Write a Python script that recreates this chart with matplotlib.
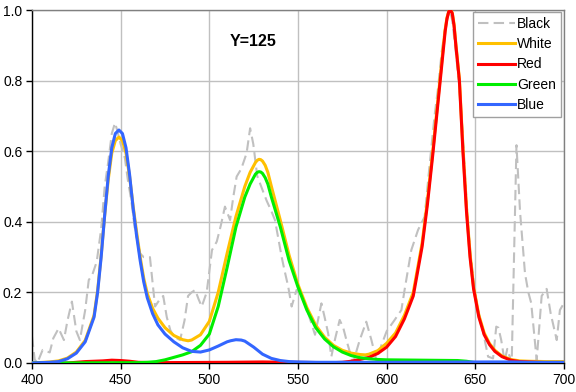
import matplotlib
matplotlib.use("Agg")
import matplotlib.pyplot as plt

plt.rcParams['font.family'] = ['Liberation Sans', 'DejaVu Sans']

# ---- data ----
black_wl = [400, 401.5, 403, 406, 410, 412, 415, 418, 420, 422.5, 425, 427, 430, 432, 434, 436.5,
            439, 441, 443, 445, 446.8, 448, 450, 452.4, 454, 456, 458, 461, 463, 466.5, 469.4,
            472, 474, 476, 478, 480, 483.5, 486, 488, 490, 492, 494, 495.7, 498.5, 500, 501.5,
            504.2, 506.5, 508.8, 511.7, 513.5, 515.4, 518, 521, 523, 524.8, 527, 530, 532.3, 535,
            537, 539, 540.8, 542.5, 544.5, 546.4, 549.2, 552, 555.8, 559.6, 563.2, 565, 567, 568.8,
            571, 573.5, 575.5, 577.3, 581, 584.8, 588.5, 591.4, 594.2, 597, 600, 604.5, 608.3,
            610.1, 613.9, 617.7, 621.4, 624, 627, 629, 631, 633, 635.5, 637, 639, 641, 643, 645.9,
            647.5, 649.6, 651.5, 653.4, 655.5, 657.2, 660, 661.8, 663, 664.6, 666.5, 668, 670.5,
            673.2, 675.2, 678, 679.9, 681.5, 684.6, 687.4, 690.2, 692.5, 695.9, 697.7, 700]
black_val = [0.075, 0.01, 0.0, 0.037, 0.03, 0.07, 0.098, 0.065, 0.12, 0.174, 0.09, 0.065, 0.15,
             0.235, 0.25, 0.287, 0.38, 0.5, 0.57, 0.65, 0.68, 0.66, 0.62, 0.58, 0.52, 0.46, 0.38,
             0.31, 0.30, 0.30, 0.16, 0.18, 0.19, 0.13, 0.093, 0.075, 0.065, 0.12, 0.19, 0.2,
             0.207, 0.18, 0.16, 0.2, 0.26, 0.32, 0.344, 0.39, 0.443, 0.405, 0.47, 0.528, 0.55,
             0.594, 0.665, 0.62, 0.53, 0.49, 0.46, 0.43, 0.405, 0.35, 0.3, 0.26, 0.216, 0.16,
             0.207, 0.19, 0.14, 0.08, 0.169, 0.13, 0.084, 0.018, 0.07, 0.122, 0.1, 0.065, 0.0,
             0.065, 0.117, 0.065, 0.008, 0.05, 0.09, 0.122, 0.15, 0.207, 0.32, 0.377, 0.414,
             0.55, 0.7, 0.78, 0.88, 0.95, 1.0, 0.97, 0.88, 0.78, 0.64, 0.386, 0.3, 0.207, 0.15,
             0.112, 0.06, 0.018, 0.013, 0.103, 0.1, 0.065, 0.005, 0.04, 0.0, 0.617, 0.43, 0.254,
             0.2, 0.17, 0.008, 0.19, 0.21, 0.14, 0.065, 0.15, 0.17]

white_wl = [400, 410, 415, 420, 425, 430, 435, 437, 439, 441, 443, 445, 447, 449, 451, 453, 455,
            457, 459, 461, 463, 465, 468, 471, 475, 480, 485, 488, 490, 495, 500, 505, 510, 515,
            520, 523, 526, 527, 528, 529, 530, 531.5, 533, 535, 540, 545, 550, 555, 560, 565,
            570, 575, 580, 585, 588, 590, 595, 600, 605, 610, 615, 620, 623, 626, 628, 630, 632,
            633, 634, 635, 636, 637, 638, 639, 641, 643, 645, 647, 649, 652, 655, 658, 661, 665,
            670, 675, 680, 690, 700]
white_val = [0.0, 0.003, 0.006, 0.014, 0.031, 0.064, 0.135, 0.205, 0.305, 0.42, 0.52, 0.595,
             0.63, 0.64, 0.63, 0.595, 0.53, 0.445, 0.37, 0.30, 0.24, 0.197, 0.155, 0.127, 0.1,
             0.078, 0.066, 0.063, 0.065, 0.08, 0.118, 0.2, 0.31, 0.415, 0.5, 0.54, 0.568, 0.574,
             0.577, 0.576, 0.572, 0.56, 0.54, 0.5, 0.405, 0.305, 0.222, 0.157, 0.107, 0.073,
             0.05, 0.036, 0.028, 0.024, 0.023, 0.025, 0.035, 0.056, 0.085, 0.135, 0.2, 0.34,
             0.46, 0.6, 0.7, 0.8, 0.9, 0.945, 0.978, 0.996, 1.0, 0.992, 0.96, 0.905, 0.805,
             0.61, 0.44, 0.31, 0.215, 0.135, 0.085, 0.055, 0.036, 0.02, 0.01, 0.006, 0.005,
             0.004, 0.004]

red_wl = [400, 420, 425, 430, 440, 445, 450, 455, 460, 470, 510, 530, 545, 570, 575, 580, 585,
          590, 595, 600, 605, 610, 615, 620, 623, 626, 628, 630, 632, 633, 634, 635, 636, 637,
          638, 639, 641, 643, 645, 647, 649, 652, 655, 658, 661, 665, 670, 675, 680, 685, 690,
          700]
red_val = [0.0, 0.0, 0.002, 0.004, 0.006, 0.008, 0.007, 0.005, 0.002, 0.001, 0.002, 0.003,
           0.002, 0.001, 0.002, 0.005, 0.01, 0.016, 0.027, 0.045, 0.075, 0.125, 0.19, 0.33,
           0.45, 0.59, 0.69, 0.79, 0.89, 0.94, 0.975, 0.995, 1.0, 0.99, 0.955, 0.9, 0.8, 0.6,
           0.43, 0.3, 0.21, 0.13, 0.08, 0.052, 0.033, 0.018, 0.008, 0.004, 0.003, 0.002, 0.001,
           0.0]

green_wl = [400, 460, 465, 470, 475, 480, 485, 490, 495, 500, 505, 510, 515, 520, 523, 526, 527,
            528, 529, 530, 531.5, 533, 535, 540, 545, 550, 555, 560, 565, 570, 575, 580, 585,
            590, 595, 600, 620, 640, 645, 650, 660, 700]
green_val = [0.0, 0.001, 0.002, 0.004, 0.009, 0.016, 0.023, 0.032, 0.05, 0.082, 0.16, 0.27,
             0.385, 0.47, 0.507, 0.535, 0.54, 0.542, 0.541, 0.537, 0.525, 0.507, 0.47, 0.386,
             0.29, 0.215, 0.15, 0.1, 0.068, 0.046, 0.031, 0.021, 0.015, 0.012, 0.01, 0.009,
             0.008, 0.007, 0.005, 0.001, 0.0, 0.0]

blue_wl = [400, 405, 410, 415, 420, 425, 430, 435, 437, 439, 441, 443, 445, 447, 449, 451, 453,
           455, 457, 459, 461, 463, 465, 468, 471, 475, 480, 485, 490, 495, 500, 505, 510, 512,
           515, 518, 520, 525, 530, 535, 540, 545, 550, 560, 600, 660, 670, 680, 700]
blue_val = [0.0, 0.001, 0.002, 0.004, 0.012, 0.028, 0.06, 0.13, 0.2, 0.3, 0.42, 0.53, 0.61,
            0.65, 0.66, 0.65, 0.61, 0.535, 0.44, 0.36, 0.29, 0.23, 0.185, 0.14, 0.108, 0.082,
            0.06, 0.043, 0.033, 0.031, 0.037, 0.048, 0.06, 0.063, 0.066, 0.065, 0.062, 0.045,
            0.025, 0.013, 0.007, 0.004, 0.003, 0.002, 0.002, 0.003, 0.003, 0.002, 0.002]

x_ticks = [400, 450, 500, 550, 600, 650, 700]
y_ticks = [0.0, 0.2, 0.4, 0.6, 0.8, 1.0]
annotation = "Y=125"

# ---- figure ----
fig = plt.figure(figsize=(5.76, 3.92), dpi=100)
ax = fig.add_axes([32 / 576, 1 - 363 / 392, 532 / 576, 353 / 392])

ax.plot(black_wl, black_val, color='#C0C0C0', lw=1.5, dashes=(5, 2.5), label='Black', zorder=2)
ax.plot(white_wl, white_val, color='#FFC000', lw=2.2, label='White', zorder=3)
ax.plot(red_wl, red_val, color='#FF0000', lw=2.2, label='Red', zorder=4)
ax.plot(green_wl, green_val, color='#00EE00', lw=2.2, label='Green', zorder=5)
ax.plot(blue_wl, blue_val, color='#3366FF', lw=2.2, label='Blue', zorder=6)

ax.set_xlim(400, 700)
ax.set_ylim(0, 1.0)
ax.set_xticks(x_ticks)
ax.set_yticks(y_ticks)
ax.set_yticklabels([f"{v:.1f}" for v in y_ticks])
ax.grid(True, color='#C0C0C0', lw=1.0)
ax.set_axisbelow(True)

for s in ('top', 'right'):
    ax.spines[s].set_color('#808080')
    ax.spines[s].set_linewidth(1.0)
for s in ('left', 'bottom'):
    ax.spines[s].set_color('black')
    ax.spines[s].set_linewidth(1.0)
ax.tick_params(axis='both', direction='out', length=4, width=1, color='black',
               labelsize=10, pad=3)
ax.tick_params(top=False, right=False)

ax.text(0.415, 0.91, annotation, transform=ax.transAxes, ha='center', va='center',
        fontsize=11.5, fontweight='bold')

leg = ax.legend(loc='upper right', bbox_to_anchor=(0.9944, 0.9943), borderaxespad=0,
                fontsize=10, handlelength=2.7, handletextpad=0.15, labelspacing=0.45,
                borderpad=0.35, fancybox=False, framealpha=1, edgecolor='#A0A0A0')
leg.get_frame().set_linewidth(1.0)

fig.savefig('out.png', dpi=100)
